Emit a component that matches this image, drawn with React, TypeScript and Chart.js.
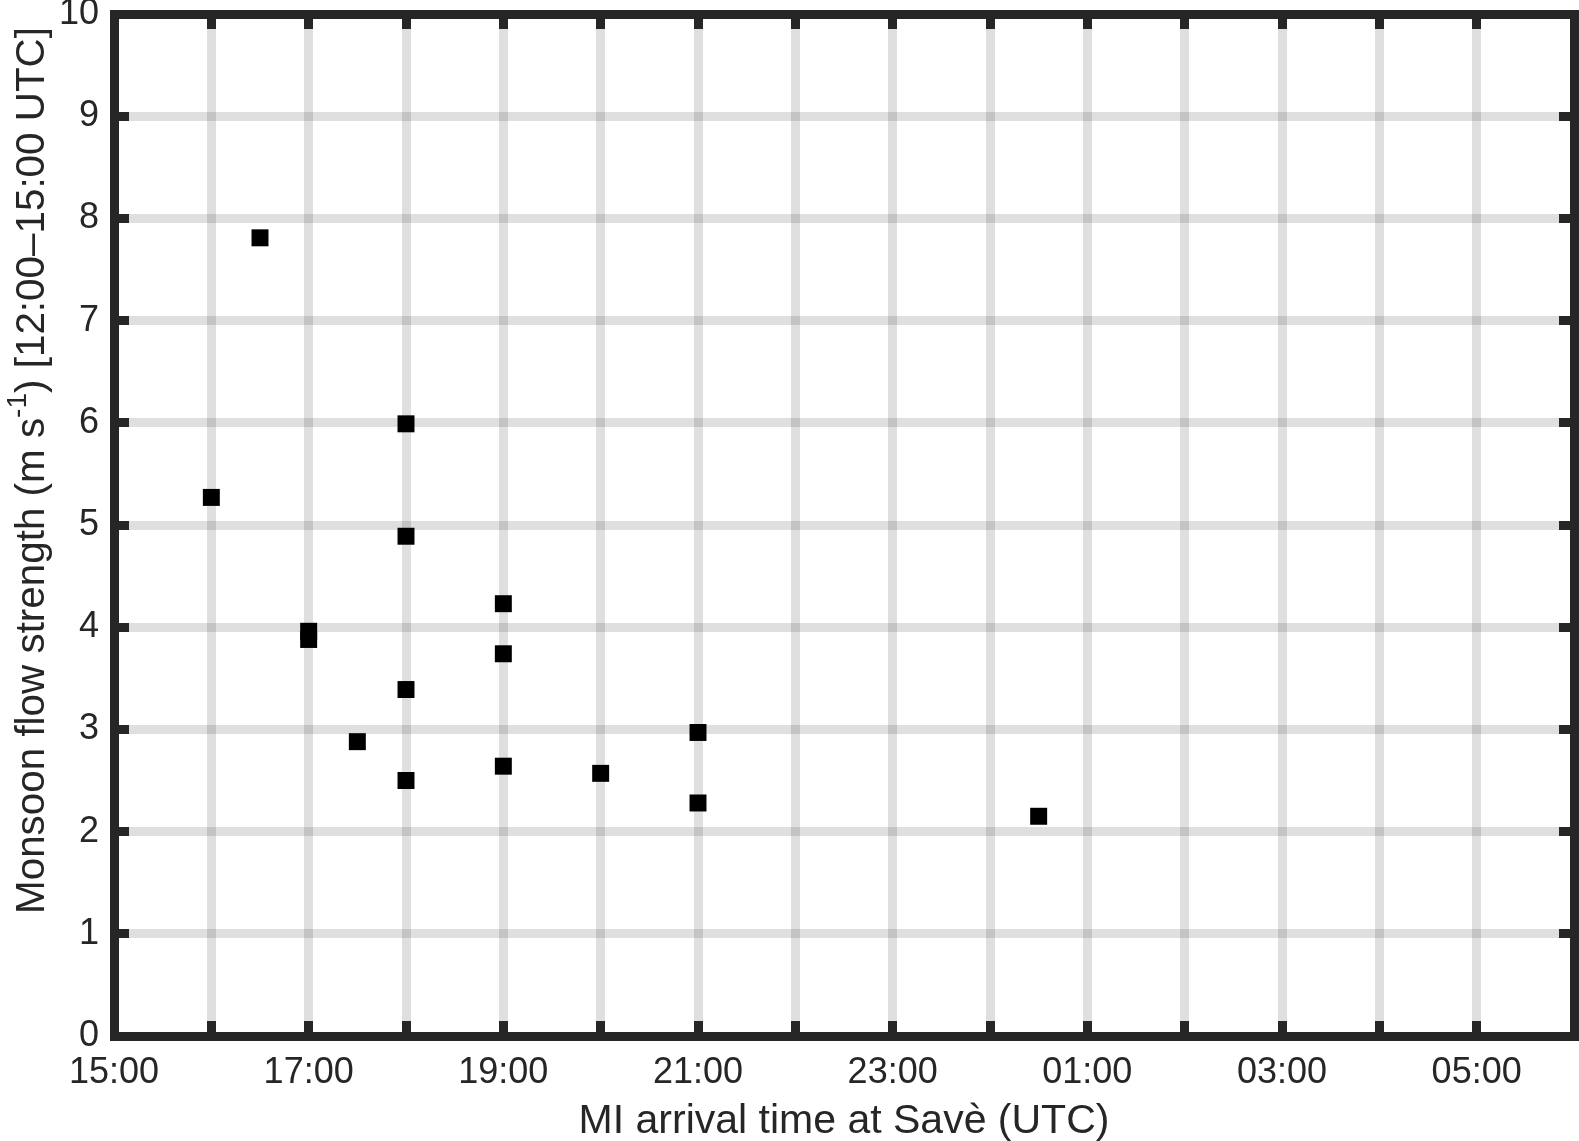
import React, { useEffect, useRef } from "react";
import { Chart, registerables } from "chart.js";

Chart.register(...registerables);

// MI arrival time at Savè (UTC) for each event
const arrivalTimes = [
  "16:00", "16:30", "17:00", "17:00", "17:30",
  "18:00", "18:00", "18:00", "18:00",
  "19:00", "19:00", "19:00",
  "20:00", "21:00", "21:00", "00:30",
];
// Monsoon flow strength (m s-1), 12:00–15:00 UTC
const flowStrength = [
  5.27, 7.81, 3.96, 3.88, 2.88,
  5.99, 4.89, 3.39, 2.5,
  4.23, 3.74, 2.64,
  2.57, 2.97, 2.28, 2.15,
];
const xTickLabels = ["15:00", "17:00", "19:00", "21:00", "23:00", "01:00", "03:00", "05:00"];
const yTickLabels = ["0", "1", "2", "3", "4", "5", "6", "7", "8", "9", "10"];

const xTitle = "MI arrival time at Savè (UTC)";
const yTitleA = "Monsoon flow strength (m s";
const yTitleSup = "-1";
const yTitleB = ") [12:00–15:00 UTC]";

const START_HOUR = 15;
const toHours = (t: string) => {
  const [h, m] = t.split(":").map(Number);
  return (h + m / 60 - START_HOUR + 24) % 24;
};

const TEXT = "#262626";
const FONT = "'Liberation Sans', Arial, sans-serif";

const framePlugin = {
  id: "frameAndTitles",
  afterDraw(chart: any) {
    const { ctx, chartArea } = chart;
    const { left, right, top, bottom } = chartArea;
    const xs = chart.scales.x;
    const ys = chart.scales.y;
    ctx.save();
    ctx.fillStyle = TEXT;
    const w = 9;
    const tl = 15;
    // inner ticks
    for (let v = 0; v <= 15; v++) {
      const px = Math.round(xs.getPixelForValue(v) - w / 2);
      ctx.fillRect(px, bottom - tl, w, tl);
      ctx.fillRect(px, top, w, tl);
    }
    for (let v = 0; v <= 10; v++) {
      const py = Math.round(ys.getPixelForValue(v) - w / 2);
      ctx.fillRect(left, py, tl, w);
      ctx.fillRect(right - tl, py, tl, w);
    }
    // frame
    const l = Math.round(left - w / 2);
    const t = Math.round(top - w / 2);
    const r = Math.round(right - w / 2);
    const b = Math.round(bottom - w / 2);
    ctx.fillRect(l, t, r - l + w, w);
    ctx.fillRect(l, b, r - l + w, w);
    ctx.fillRect(l, t, w, b - t + w);
    ctx.fillRect(r, t, w, b - t + w);

    // x title
    ctx.font = `41px ${FONT}`;
    ctx.textAlign = "center";
    ctx.textBaseline = "alphabetic";
    ctx.fillText(xTitle, (left + right) / 2, 1133);

    // y title with superscript
    const mainFont = `40.4px ${FONT}`;
    const supFont = `28px ${FONT}`;
    ctx.font = mainFont;
    const wA = ctx.measureText(yTitleA).width;
    const wB = ctx.measureText(yTitleB).width;
    ctx.font = supFont;
    const wS = ctx.measureText(yTitleSup).width;
    const total = wA + wS + wB;
    const centerY = 470.5;
    ctx.translate(44, centerY);
    ctx.rotate(-Math.PI / 2);
    ctx.textAlign = "left";
    let x0 = -total / 2;
    ctx.font = mainFont;
    ctx.fillText(yTitleA, x0, 0);
    x0 += wA;
    ctx.font = supFont;
    ctx.fillText(yTitleSup, x0, -18);
    x0 += wS;
    ctx.font = mainFont;
    ctx.fillText(yTitleB, x0, 0);
    ctx.restore();
  },
};

export default function App() {
  const ref = useRef<HTMLCanvasElement | null>(null);
  useEffect(() => {
    if (!ref.current) return;
    const points = arrivalTimes.map((t, i) => ({ x: toHours(t), y: flowStrength[i] }));
    const gridColor = "rgba(38,38,38,0.15)";
    const chart = new Chart(ref.current, {
      type: "scatter",
      data: {
        datasets: [
          {
            data: points,
            pointStyle: "rect",
            pointRadius: 12,
            pointHoverRadius: 12,
            pointBorderWidth: 0,
            backgroundColor: "#000000",
            borderColor: "#000000",
          },
        ],
      },
      options: {
        animation: false,
        responsive: false,
        devicePixelRatio: 1,
        events: [],
        layout: { autoPadding: false, padding: { top: 14, right: 5, left: 0, bottom: 0 } },
        plugins: { legend: { display: false }, tooltip: { enabled: false } },
        scales: {
          x: {
            type: "linear",
            min: 0,
            max: 15,
            afterBuildTicks: (s: any) => {
              s.ticks = Array.from({ length: 16 }, (_, i) => ({ value: i }));
            },
            ticks: {
              autoSkip: false,
              maxRotation: 0,
              color: TEXT,
              font: { family: FONT, size: 36 },
              padding: 15,
              callback: (v: any) => (Number(v) % 2 === 0 ? xTickLabels[Number(v) / 2] : ""),
            },
            grid: { color: gridColor, lineWidth: 9, drawTicks: false },
            border: { display: false },
            afterFit: (s: any) => {
              s.height = 105;
              s.paddingLeft = 0;
              s.paddingRight = 0;
            },
          },
          y: {
            type: "linear",
            min: 0,
            max: 10,
            afterBuildTicks: (s: any) => {
              s.ticks = yTickLabels.map((_, i) => ({ value: i }));
            },
            ticks: {
              autoSkip: false,
              color: TEXT,
              font: { family: FONT, size: 36 },
              padding: 15,
              callback: (v: any) => yTickLabels[Number(v)] ?? "",
            },
            grid: { color: gridColor, lineWidth: 9, drawTicks: false },
            border: { display: false },
            afterFit: (s: any) => {
              s.width = 114;
              s.paddingTop = 0;
              s.paddingBottom = 0;
            },
          },
        },
      },
      plugins: [framePlugin],
    } as any);
    return () => chart.destroy();
  }, []);
  return (
    <div style={{ position: "fixed", left: 0, top: 0, width: 1579, height: 1141, background: "#fff" }}>
      <canvas ref={ref} width={1579} height={1141} style={{ display: "block" }} />
    </div>
  );
}
